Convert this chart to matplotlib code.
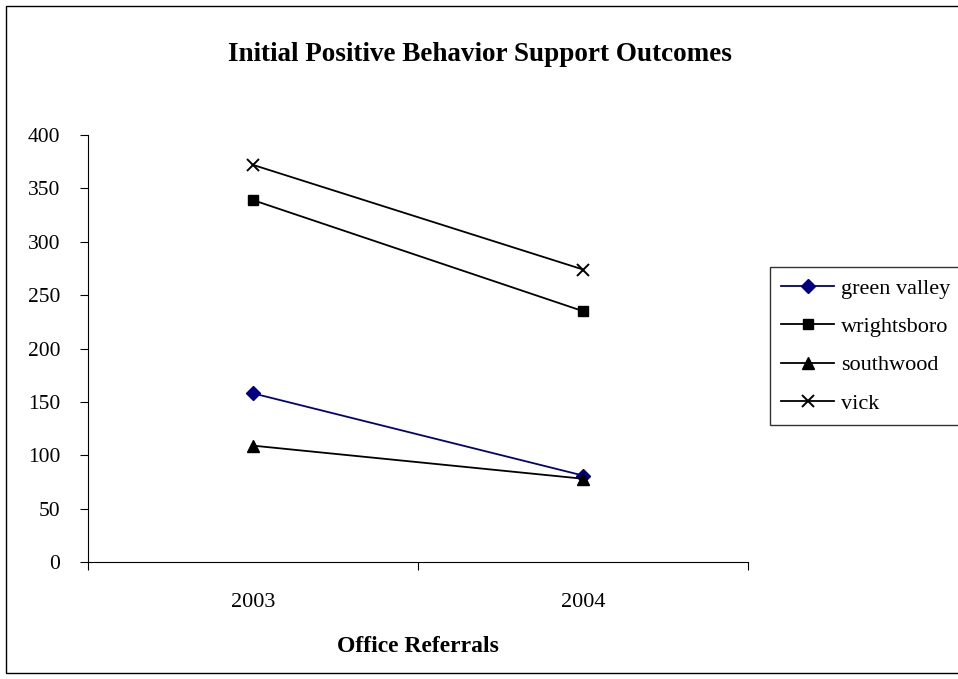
import matplotlib.pyplot as plt
from matplotlib.patches import Rectangle

years = ["2003", "2004"]
green_valley = [158, 81]
wrightsboro = [339, 235]
southwood = [109, 78]
vick = [372, 274]

plt.rcParams['font.family'] = ['Liberation Serif', 'DejaVu Serif']

W, H = 958, 679
fig = plt.figure(figsize=(W / 100, H / 100), dpi=100)
ax = fig.add_axes([88 / W, 1 - 562 / H, (748 - 88) / W, (562 - 135) / H])

# outer chart border (right side runs off the picture)
fig.patches.append(Rectangle((6 / W, 6 / H), 1.2, 1 - 12 / H, transform=fig.transFigure,
                             fill=False, edgecolor='black', linewidth=1.0))

xs = [0.5, 1.5]
lw = 1.3
ax.plot(xs, green_valley, color='#000080', lw=lw, marker='D', ms=7, label='green valley')
ax.plot(xs, wrightsboro, color='black', lw=lw, marker='s', ms=7, label='wrightsboro')
ax.plot(xs, southwood, color='black', lw=lw, marker='^', ms=8, label='southwood')
ax.plot(xs, vick, color='black', lw=lw, marker='x', ms=9, mew=1.4, label='vick')

ax.set_xlim(0, 2)
ax.set_ylim(0, 400)
ax.set_yticks(range(0, 401, 50))
ax.set_xticks([0, 1, 2])
ax.set_xticklabels([])
ax.set_xticks(xs, minor=True)
ax.set_xticklabels(years, minor=True)
ax.tick_params(axis='x', which='minor', length=0, pad=22, labelsize=16)
ax.tick_params(axis='x', which='major', length=6, direction='out')
ax.tick_params(axis='y', length=6, direction='out', labelsize=15.5, pad=14)

for s in ['top', 'right']:
    ax.spines[s].set_visible(False)

fig.text(480 / W, 1 - 61 / H, "Initial Positive Behavior Support Outcomes",
         ha='center', va='baseline', fontsize=19.5, fontweight='bold')
fig.text(0.5 * (88 + 748) / W, 1 - 652 / H, "Office Referrals",
         ha='center', va='baseline', fontsize=17, fontweight='bold')

leg = fig.legend(loc='upper left', bbox_to_anchor=(770 / W, 1 - 267 / H),
                 frameon=True, fontsize=16, handlelength=2.4, labelspacing=0.8,
                 borderaxespad=0, borderpad=0.5, handletextpad=0.3)
leg.get_frame().set_edgecolor('black')
leg.get_frame().set_boxstyle('square', pad=0)
leg.get_frame().set_linewidth(1.0)

fig.savefig("out.png", dpi=100)
